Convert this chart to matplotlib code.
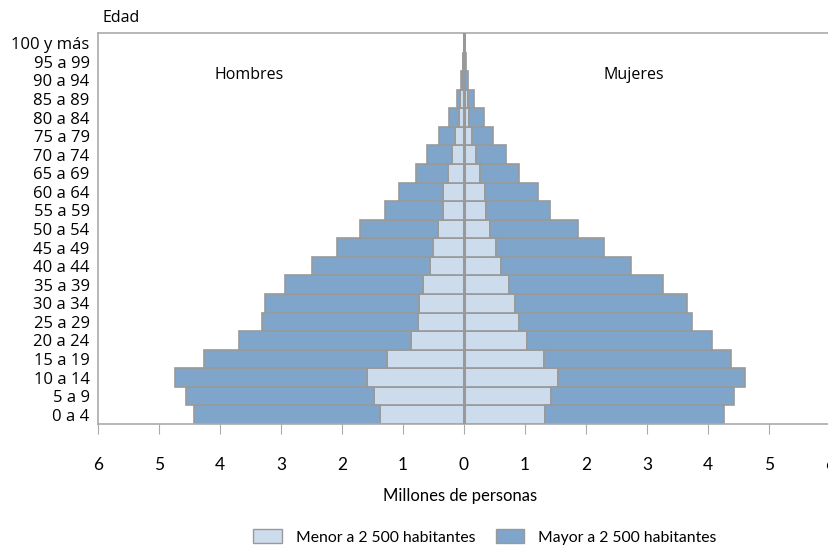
import numpy as np
import matplotlib.pyplot as plt
from matplotlib.patches import Patch

# grupos de edad (de abajo hacia arriba)
edades = ['0 a 4', '5 a 9', '10 a 14', '15 a 19', '20 a 24', '25 a 29', '30 a 34',
          '35 a 39', '40 a 44', '45 a 49', '50 a 54', '55 a 59', '60 a 64', '65 a 69',
          '70 a 74', '75 a 79', '80 a 84', '85 a 89', '90 a 94', '95 a 99', '100 y más']

# millones de personas
hombres_menor = [1.37, 1.47, 1.59, 1.26, 0.87, 0.76, 0.74, 0.68, 0.56, 0.50, 0.42,
                 0.35, 0.34, 0.26, 0.20, 0.15, 0.08, 0.06, 0.02, 0.01, 0.002]
hombres_mayor = [3.06, 3.09, 3.14, 3.01, 2.82, 2.55, 2.53, 2.25, 1.93, 1.58, 1.28,
                 0.95, 0.73, 0.52, 0.41, 0.26, 0.17, 0.06, 0.03, 0.01, 0.003]
mujeres_menor = [1.33, 1.43, 1.54, 1.31, 1.04, 0.90, 0.83, 0.73, 0.60, 0.52, 0.43,
                 0.36, 0.34, 0.26, 0.20, 0.13, 0.09, 0.06, 0.02, 0.01, 0.003]
mujeres_mayor = [2.94, 2.99, 3.06, 3.06, 3.03, 2.83, 2.82, 2.53, 2.14, 1.77, 1.44,
                 1.05, 0.87, 0.64, 0.49, 0.35, 0.23, 0.10, 0.05, 0.02, 0.005]

ticks = [-6, -5, -4, -3, -2, -1, 0, 1, 2, 3, 4, 5, 6]

c_menor = '#cddcec'
c_mayor = '#7fa6ca'
c_borde = '#999999'
estrecha = ['Lato', 'DejaVu Sans']

plt.rcParams['font.family'] = ['Open Sans', 'DejaVu Sans']

fig = plt.figure(figsize=(8.29, 5.45), dpi=100)
ax = fig.add_axes([98 / 829, 121 / 545, 732 / 829, 391 / 545])

y = np.arange(len(edades))
hm = np.array(hombres_menor)
mm = np.array(mujeres_menor)

ax.barh(y, -hm, height=1.0, color=c_menor, edgecolor=c_borde, linewidth=1.2)
ax.barh(y, -np.array(hombres_mayor), left=-hm, height=1.0, color=c_mayor,
        edgecolor=c_borde, linewidth=1.2)
ax.barh(y, mm, height=1.0, color=c_menor, edgecolor=c_borde, linewidth=1.2)
ax.barh(y, mujeres_mayor, left=mm, height=1.0, color=c_mayor,
        edgecolor=c_borde, linewidth=1.2)

ax.axvline(0, color=c_borde, linewidth=2.2, zorder=5)

ax.set_xlim(-6, 6)
ax.set_ylim(-0.5, 20.55)
ax.set_xticks(ticks)
ax.set_xticklabels([str(abs(t)) for t in ticks], fontsize=12.5, family=estrecha)
ax.set_yticks(y)
ax.set_yticklabels(edades, fontsize=12)
ax.tick_params(axis='x', direction='out', length=7, color='#aaaaaa', pad=17)
ax.tick_params(axis='y', length=0, pad=6)

for s in ['left', 'top', 'bottom']:
    ax.spines[s].set_color('#aaaaaa')
    ax.spines[s].set_linewidth(1.2)
ax.spines['right'].set_visible(False)

fig.text(103 / 829, 1 - 18 / 545, 'Edad', fontsize=11.5, va='center', ha='left')
ax.text(-3.52, 18.3, 'Hombres', fontsize=11.5, ha='center', va='center')
ax.text(2.79, 18.3, 'Mujeres', fontsize=11.5, ha='center', va='center')
fig.text(460 / 829, 1 - 496 / 545, 'Millones de personas', fontsize=12,
         ha='center', va='center', family=estrecha)

handles = [Patch(facecolor=c_menor, edgecolor=c_borde, label='Menor a 2 500 habitantes'),
           Patch(facecolor=c_mayor, edgecolor=c_borde, label='Mayor a 2 500 habitantes')]
fig.legend(handles=handles, loc='center', bbox_to_anchor=(485 / 829, 1 - 537 / 545),
           ncol=2, frameon=False, handlelength=1.8, handleheight=1.0,
           columnspacing=1.3, handletextpad=0.9,
           prop={'family': estrecha, 'size': 11.3})

fig.savefig('out.png', dpi=100)
